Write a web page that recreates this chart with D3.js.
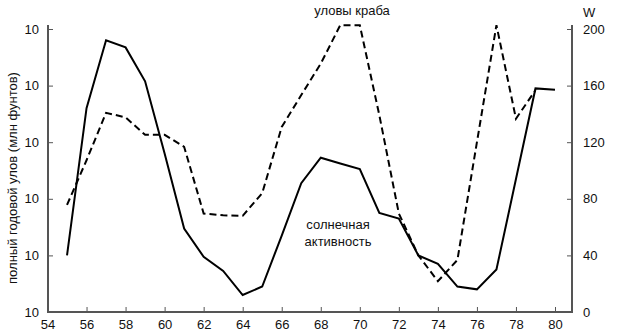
<!DOCTYPE html>
<html>
<head>
<meta charset="utf-8">
<script src="https://cdn.jsdelivr.net/npm/d3@7"></script>
<style>
  html, body { margin: 0; padding: 0; background: #fff; }
  svg { display: block; font-family: "Liberation Sans", Arial, sans-serif; }
</style>
</head>
<body>
<svg id="chart" width="620" height="336"></svg>
<script>
// Years shown on the horizontal axis
const yearTicks = [54, 56, 58, 60, 62, 64, 66, 68, 70, 72, 74, 76, 78, 80];

// Solar activity (Wolf number W), 1955–1980
const sunYears = [55, 56, 57, 58, 59, 60, 61, 62, 63, 64, 65, 66, 67, 68, 69, 70, 71, 72, 73, 74, 75, 76, 77, 78, 79, 80];
const sunW     = [40, 144, 192, 187, 163, 112, 59, 39, 29, 12, 18, 54, 91, 109, 105, 101, 70, 66, 40, 34, 18, 16, 30, 94, 158, 157];

// Total annual crab catch (log scale), 1955–1979
const crabYears = [55, 56, 57, 58, 59, 60, 61, 62, 63, 64, 65, 66, 67, 68, 69, 70, 71, 72, 73, 74, 75, 76, 77, 78, 79];
const crabCatch = [78, 480, 3300, 2750, 1350, 1350, 830, 55, 51, 50, 126, 1860, 6800, 24500, 117000, 117000, 3000, 55, 10, 3.5, 8.3, 1000, 117000, 2600, 8300];

// Axis tick values
const wTicks = [0, 40, 80, 120, 160, 200];
const catchTicks = [1, 10, 100, 1000, 10000, 100000];

const svg = d3.select("#chart");
const axisColor = "#555";
const plotLeft = 48, plotRight = 572, plotTop = 25, plotBottom = 312;
const font = "Liberation Sans, Arial, sans-serif";

const x = d3.scaleLinear().domain([54, 80]).range([47.5, 555]);
const yW = d3.scaleLinear().domain([0, 200]).range([312, 29]);
const yC = d3.scaleLog().domain([1, 100000]).range([312, 29]);

function styleAxis(g) {
  g.select(".domain").remove();
  g.selectAll(".tick line").attr("stroke", axisColor);
  g.selectAll("text").attr("font-size", 13).attr("fill", "#111").attr("font-family", font);
}

// Bottom axis (the first year sits on the left axis, so it gets no tick mark)
const xAxis = svg.append("g").attr("transform", `translate(0,${plotBottom})`)
  .call(d3.axisBottom(x).tickValues(yearTicks).tickSizeInner(-5).tickSizeOuter(0).tickPadding(8).tickFormat(d3.format("d")))
  .call(styleAxis);
xAxis.selectAll(".tick").filter(d => d === 54).select("line").remove();
svg.append("line").attr("x1", plotLeft).attr("x2", plotRight).attr("y1", plotBottom).attr("y2", plotBottom)
  .attr("stroke", axisColor).attr("stroke-width", 2);

// Left axis (catch, log scale)
svg.append("g").attr("transform", `translate(${plotLeft},0)`)
  .call(d3.axisLeft(yC).tickValues(catchTicks).tickSizeInner(-5).tickSizeOuter(0).tickPadding(9).tickFormat(() => "10"))
  .call(styleAxis);
svg.append("line").attr("x1", plotLeft).attr("x2", plotLeft).attr("y1", plotTop).attr("y2", plotBottom + 1)
  .attr("stroke", axisColor).attr("stroke-width", 2);

// Right axis (W)
svg.append("g").attr("transform", `translate(${plotRight},0)`)
  .call(d3.axisRight(yW).tickValues(wTicks).tickSizeInner(-5).tickSizeOuter(0).tickPadding(11).tickFormat(d3.format("d")))
  .call(styleAxis);
svg.append("line").attr("x1", plotRight).attr("x2", plotRight).attr("y1", plotTop).attr("y2", plotBottom + 1)
  .attr("stroke", axisColor).attr("stroke-width", 2);

// Solar activity line
const sunLine = d3.line().x((d, i) => x(sunYears[i])).y(d => yW(d));
svg.append("path").datum(sunW).attr("d", sunLine)
  .attr("fill", "none").attr("stroke", "#000").attr("stroke-width", 2).attr("stroke-linejoin", "miter");

// Crab catch line
const crabLine = d3.line().x((d, i) => x(crabYears[i])).y(d => yC(d));
svg.append("path").datum(crabCatch).attr("d", crabLine)
  .attr("fill", "none").attr("stroke", "#000").attr("stroke-width", 2).attr("stroke-dasharray", "7,4");

// Labels
const label = (t, px, py, anchor) => svg.append("text").text(t)
  .attr("x", px).attr("y", py).attr("text-anchor", anchor).attr("font-size", 13)
  .attr("dominant-baseline", "central").attr("fill", "#111").attr("font-family", font);

label("уловы краба", 352, 10, "middle");
label("солнечная", 338, 224, "middle");
label("активность", 338, 241, "middle");
label("W", 583, 12, "start");

svg.append("text").text("полный годовой улов (млн фунтов)")
  .attr("transform", "translate(12,178) rotate(-90)")
  .attr("text-anchor", "middle").attr("dominant-baseline", "central")
  .attr("font-size", 13).attr("fill", "#111").attr("font-family", font);
</script>
</body>
</html>
